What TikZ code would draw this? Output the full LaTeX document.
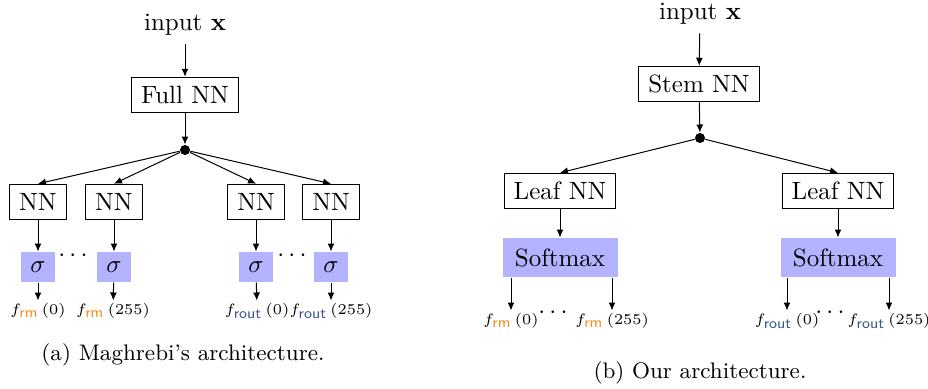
\documentclass[tikz,border=0pt]{standalone}
\usetikzlibrary{arrows.meta}
\definecolor{rmcol}{RGB}{247,140,30}
\definecolor{outcol}{RGB}{60,85,135}
\definecolor{actfill}{RGB}{179,179,255}
% output labels: subscript kept at the same size as the base letter
\newcommand{\subsz}{\fontsize{6}{7}\selectfont\sffamily}
\newcommand{\frm}[1]{$f_{\mbox{\subsz\color{rmcol}rm}}\,(#1)$}
\newcommand{\fout}[1]{$f_{\mbox{\subsz\color{outcol}rout}}\,(#1)$}
\begin{document}
\begin{tikzpicture}[x=0.4pt,y=-0.4pt,
  net/.style={draw,line width=0.4pt,inner xsep=3.8pt,inner ysep=0pt,minimum height=14.2pt},
  act/.style={fill=actfill,inner sep=0pt,minimum width=13.6pt,minimum height=12pt},
  smax/.style={fill=actfill,inner sep=0pt,minimum width=46pt,minimum height=15.6pt},
  hub/.style={circle,fill=black,inner sep=0pt,minimum size=4pt},
  lbl/.style={font=\fontsize{6}{7}\selectfont,inner sep=1pt},
  captext/.style={font=\small},
  arr/.style={-{Latex[length=3.2pt,width=2.8pt]},line width=0.4pt}]
\useasboundingbox (0,0) rectangle (928,388);

% ---- left: one network per output bit ----
\node (inA) at (185,25) {input $\mathbf{x}$};
\node[net] (full) at (185,95) {Full NN};
\node[hub] (hubA) at (185,150) {};
\foreach \i/\x in {1/38,2/114,3/256,4/331}{
  \node[net] (nn\i) at (\x,202) {NN};
  \node[act] (sg\i) at (\x,267) {$\sigma$};
}
\node[lbl] (oa1) at (38,311) {\frm{0}};
\node[lbl] (oa2) at (113,311) {\frm{255}};
\node[lbl] (oa3) at (257,311) {\fout{0}};
\node[lbl] (oa4) at (331,311) {\fout{255}};
\node (dA1) at (73,256) {$\cdots$};
\node (dA2) at (292,256) {$\cdots$};

\draw[arr] (inA) -- (full);
\draw[arr] (full) -- (hubA);
\foreach \i in {1,...,4}{
  \draw[arr] (hubA) -- (nn\i.north);
  \draw[arr] (nn\i) -- (sg\i);
  \draw[arr] (sg\i) -- (oa\i);
}
\node[captext] (capA) at (183,355) {(a) Maghrebi's architecture.};

% ---- right: shared stem with two leaves ----
\node (inB) at (700,14) {input $\mathbf{x}$};
\node[net] (stem) at (699,84) {Stem NN};
\node[hub] (hubB) at (700,138) {};
\node[net] (leaf1) at (560,191) {Leaf NN};
\node[net] (leaf2) at (838,191) {Leaf NN};
\node[smax] (sm1) at (560,257.5) {Softmax};
\node[smax] (sm2) at (838,257.5) {Softmax};
\node[lbl] (ob1) at (511,321) {\frm{0}};
\node[lbl] (ob2) at (612,321) {\frm{255}};
\node[lbl] (ob3) at (787,321) {\fout{0}};
\node[lbl] (ob4) at (889,321) {\fout{255}};
\node (dB1) at (553,313) {$\cdots$};
\node (dB2) at (830,313) {$\cdots$};

\draw[arr] (inB) -- (stem);
\draw[arr] (stem) -- (hubB);
\draw[arr] (hubB) -- (leaf1.north);
\draw[arr] (hubB) -- (leaf2.north);
\draw[arr] (leaf1) -- (sm1);
\draw[arr] (leaf2) -- (sm2);
\draw[arr] (sm1.south -| ob1) -- (ob1);
\draw[arr] (sm1.south -| ob2) -- (ob2);
\draw[arr] (sm2.south -| ob3) -- (ob3);
\draw[arr] (sm2.south -| ob4) -- (ob4);
\node[captext] (capB) at (700,373) {(b) Our architecture.};
\end{tikzpicture}
\end{document}
